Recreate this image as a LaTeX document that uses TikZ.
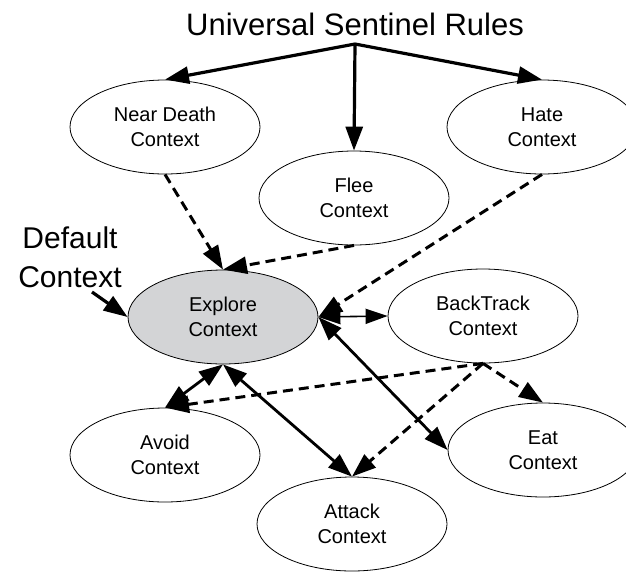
\documentclass[tikz,border=0pt]{standalone}
\usepackage{fontspec}
\setmainfont{Liberation Sans}
\usetikzlibrary{arrows.meta,positioning,shapes.geometric}
\definecolor{exploregray}{RGB}{211,212,214}

\begin{document}
\begin{tikzpicture}[x=1pt, y=-1pt,
    ctx/.style={ellipse, draw, line width=0.8pt, minimum width=190pt, minimum height=94pt,
        inner sep=0pt, align=center, font=\fontsize{20}{25}\selectfont},
    tip/.tip={Triangle[length=24pt, width=17pt]},
    rule/.style={line width=3.2pt, -tip},
    soft/.style={line width=3pt, dash pattern=on 10pt off 6pt, -tip},
    both/.style={line width=2.8pt, tip-tip}]
    \useasboundingbox (0,0) rectangle (626,571);

    \node[anchor=base, font=\fontsize{31}{36}\selectfont] (title) at (355,35) {Universal Sentinel Rules};
    \coordinate (root) at (355,44);

    \node[ctx] (near) at (165,127) {Near Death\\Context};
    \node[ctx] (flee) at (354,198) {Flee\\Context};
    \node[ctx] (hate) at (542,127) {Hate\\Context};
    \node[ctx, fill=exploregray] (explore) at (223,317) {Explore\\Context};
    \node[ctx] (backtrack) at (483,316) {BackTrack\\Context};
    \node[ctx] (avoid) at (165,455) {Avoid\\Context};
    \node[ctx] (eat) at (543,450) {Eat\\Context};
    \node[ctx] (attack) at (352,524) {Attack\\Context};

    \node[align=center, inner sep=0pt, font=\fontsize{30}{39}\selectfont] (default) at (70,257) {Default\\Context};
    \coordinate (defstart) at (92,292);

    \draw[rule] (root) -- (near.north);
    \draw[rule] (root) -- (flee.north);
    \draw[rule] (root) -- (hate.north);

    \draw[soft] (near.south) -- (explore.north);
    \draw[soft] (flee.south) -- (explore.north);
    \draw[soft] (hate.south) -- (explore.east);

    \draw[rule] (defstart) -- (explore.west);
    \draw[line width=1.6pt, {Triangle[length=22pt, width=15pt]}-{Triangle[length=22pt, width=15pt]}] (explore.east) -- (backtrack.west);
    \draw[both] (explore.east) -- (eat.west);
    \draw[both] (explore.south) -- (avoid.north);
    \draw[both] (explore.south) -- (attack.north);

    \draw[soft] (backtrack.south) -- (avoid.north);
    \draw[soft] (backtrack.south) -- (attack.north);
    \draw[soft] (backtrack.south) -- (eat.north);
\end{tikzpicture}
\end{document}
